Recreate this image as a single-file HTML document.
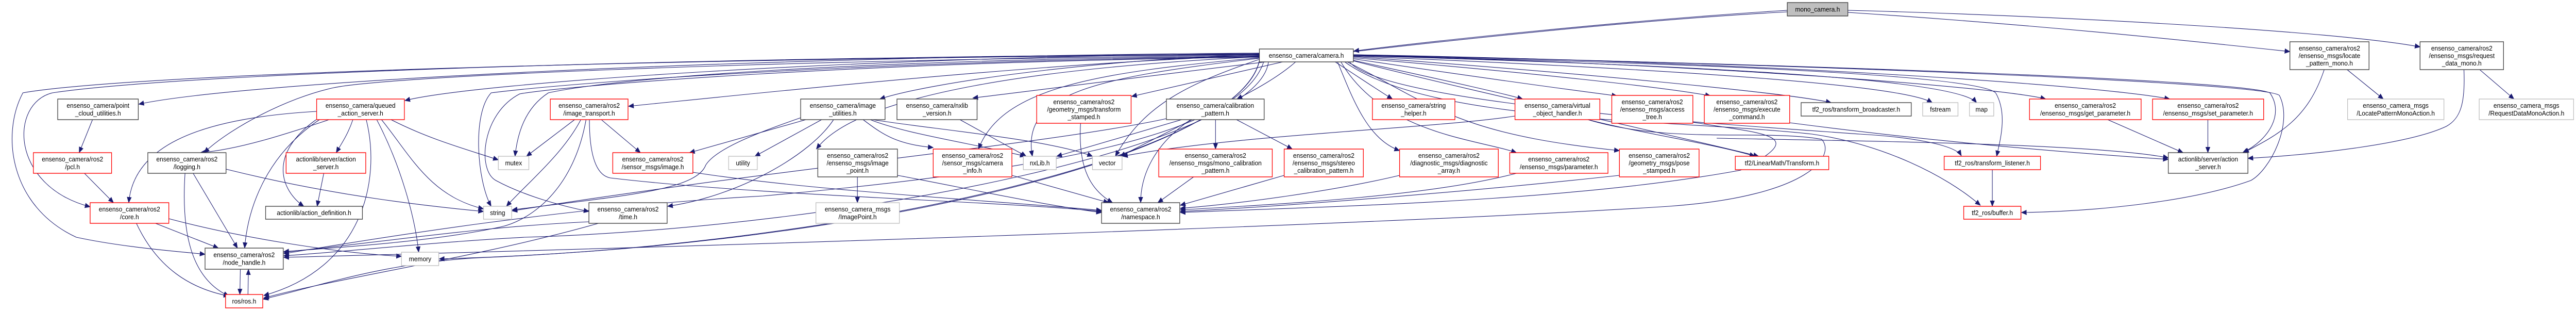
<!DOCTYPE html>
<html><head><meta charset="utf-8"><style>
html,body{margin:0;padding:0;background:#fff;width:100vw;height:100vh;overflow:hidden;}
svg{display:block;overflow:hidden;width:100vw;height:100vh;}
text{font-family:"Liberation Sans","DejaVu Sans",sans-serif;font-size:13px;fill:#000;text-anchor:middle;}
.d{fill:#fff;stroke:#404040;stroke-width:1.4;}
.r{fill:#fff;stroke:#ff0000;stroke-width:1.4;}
.g{fill:#fff;stroke:#bfbfbf;stroke-width:1.4;}
.e{fill:none;stroke:#191970;stroke-width:1.1;}
</style></head><body>
<svg viewBox="0 0 5402 603" preserveAspectRatio="none" xmlns="http://www.w3.org/2000/svg">
<defs><marker id="a" markerUnits="userSpaceOnUse" markerWidth="12" markerHeight="10" refX="11" refY="5" orient="auto"><path d="M0,0 L12,5 L0,10 z" fill="#191970"/></marker></defs>
<g class="e" marker-end="url(#a)">
<path d="M3748,20 C3400,40 3000,80 2839,99"/>
<path d="M3748,23 C3200,50 2400,150 2040,190"/>
<path d="M3875,20 C4300,30 4900,60 5075,91"/>
<path d="M3875,24 C4300,50 4600,80 4802,100"/>
<path d="M2641,103 C1500,110 500,160 291,202"/>
<path d="M2641,104 C1800,110 1000,160 849,195"/>
<path d="M2641,105 C1500,110 400,140 110,180 C20,200 20,360 189,401"/>
<path d="M2641,106 C1500,112 300,140 48,180 C2,260 20,400 160,460 C260,480 380,488 430,493"/>
<path d="M2641,107 C1500,118 800,150 700,170 C600,190 480,250 428,296"/>
<path d="M2641,108 C2200,120 1600,180 1318,206"/>
<path d="M2641,109 C1800,115 1300,150 1150,180 C1100,210 1085,260 1080,303"/>
<path d="M2641,110 C1800,118 1200,160 1030,180 C990,220 1000,350 1030,400"/>
<path d="M2641,111 C1800,120 1200,165 1090,182 C1010,220 1000,330 1040,350 C1100,380 1180,400 1235,410"/>
<path d="M2641,106 C2300,115 1950,160 1845,192"/>
<path d="M2641,112 C2300,140 2100,170 2052,289"/>
<path d="M2641,113 C2300,150 2140,180 2165,303"/>
<path d="M2641,115 C2500,160 2400,200 2339,303"/>
<path d="M2690,120 C2550,150 2450,170 2373,187"/>
<path d="M2717,120 C2680,150 2630,175 2594,192"/>
<path d="M2641,110 C2200,130 1800,180 1712,289"/>
<path d="M2641,118 C2600,300 1800,470 1000,500 C800,510 650,560 552,580"/>
<path d="M2641,117 C2600,300 1800,480 921,502"/>
<path d="M2660,120 C2640,280 1800,440 1100,460 C900,470 700,490 595,496"/>
<path d="M2650,120 C2600,260 2200,330 1600,380 C1200,400 800,460 595,492"/>
<path d="M2800,120 C2850,150 2890,175 2920,192"/>
<path d="M2838,117 C3000,150 3150,180 3193,192"/>
<path d="M2838,114 C3100,150 3300,175 3391,186"/>
<path d="M2838,112 C3200,140 3500,170 3587,186"/>
<path d="M2805,120 C2840,200 2870,270 2935,292"/>
<path d="M2812,120 C2900,260 3100,270 3180,296"/>
<path d="M2825,120 C3000,200 3050,260 3396,292"/>
<path d="M2838,118 C3100,180 3500,260 3688,303"/>
<path d="M2838,110 C3300,140 3750,180 3840,199"/>
<path d="M2838,109 C3400,130 3980,160 4052,199"/>
<path d="M2838,108 C3500,125 4100,150 4145,199"/>
<path d="M2838,107 C3600,125 4200,170 4290,192"/>
<path d="M2838,106 C3700,120 4400,165 4550,192"/>
<path d="M2838,108 C3700,125 4150,150 4185,180 C4210,220 4195,270 4187,303"/>
<path d="M2838,107 C3800,125 4700,155 4760,180 C4790,220 4760,270 4703,296"/>
<path d="M2838,106 C3800,125 4750,160 4780,185 C4810,240 4760,330 4720,350 C4600,390 4400,410 4239,412"/>
<path d="M2830,120 C2900,200 3600,240 3900,260 C4000,265 4100,280 4113,302"/>
<path d="M2820,120 C3000,240 3500,230 3800,260 C3950,280 4080,340 4153,398"/>
<path d="M664,216 C400,230 280,290 270,393"/>
<path d="M690,232 C600,260 500,290 420,296"/>
<path d="M670,232 C560,300 520,400 513,481"/>
<path d="M740,232 C730,260 715,280 705,296"/>
<path d="M663,232 C560,300 590,370 637,400"/>
<path d="M768,232 C800,350 760,520 553,573"/>
<path d="M790,232 C840,320 870,420 878,489"/>
<path d="M800,232 C860,300 900,380 1014,405"/>
<path d="M820,232 C900,270 980,290 1045,310"/>
<path d="M194,232 L166,296"/>
<path d="M177,336 L238,393"/>
<path d="M405,336 L498,481"/>
<path d="M388,336 C380,450 400,540 480,574"/>
<path d="M474,328 C700,380 900,400 1014,410"/>
<path d="M679,336 L665,400"/>
<path d="M326,433 L458,481"/>
<path d="M286,433 C330,520 400,560 480,574"/>
<path d="M354,424 C500,460 700,490 842,497"/>
<path d="M504,522 L503,571"/>
<path d="M520,571 L521,522"/>
<path d="M1205,232 L1104,303"/>
<path d="M1218,232 C1180,300 1100,360 1062,400"/>
<path d="M1261,232 L1343,296"/>
<path d="M1229,232 C1200,380 1100,430 1050,440 C900,470 700,480 595,488"/>
<path d="M1236,232 C1236,300 1250,340 1280,345 C1600,380 2100,390 2310,410"/>
<path d="M1453,334 C1700,370 2100,390 2310,408"/>
<path d="M1690,232 L1446,296"/>
<path d="M1723,232 L1583,303"/>
<path d="M1748,232 C1700,300 1550,380 1400,400"/>
<path d="M1680,228 C1580,260 1500,290 1480,320 C1460,370 1300,380 1074,407"/>
<path d="M1810,232 C1850,260 1880,280 1957,286"/>
<path d="M1825,232 C1900,260 2050,280 2150,303"/>
<path d="M1830,232 C1950,250 2200,270 2291,303"/>
<path d="M1798,343 L1798,393"/>
<path d="M1882,340 C2000,360 2200,400 2310,412"/>
<path d="M1255,433 C1000,500 700,540 553,578"/>
<path d="M1235,430 C1000,440 800,470 595,489"/>
<path d="M2013,232 L2152,303"/>
<path d="M2266,239 C2260,330 2290,370 2333,393"/>
<path d="M2549,232 L2549,289"/>
<path d="M2593,232 L2710,289"/>
<path d="M2500,232 L2349,303"/>
<path d="M2478,232 L2216,303"/>
<path d="M2497,232 C2420,280 2392,340 2392,393"/>
<path d="M2446,230 C2200,280 1600,330 1074,409"/>
<path d="M2122,340 L2325,393"/>
<path d="M2503,343 L2428,393"/>
<path d="M2693,340 L2475,398"/>
<path d="M2935,340 C2800,370 2600,395 2475,404"/>
<path d="M3180,336 C3000,380 2700,395 2475,407"/>
<path d="M3396,340 C3100,370 2700,400 2475,410"/>
<path d="M3550,237 C3700,260 3800,260 3650,330 C3300,390 2800,400 2475,412"/>
<path d="M3330,232 C3450,260 3600,280 3680,303"/>
<path d="M3177,225 C3000,250 2600,260 2354,303"/>
<path d="M3330,232 C3500,280 3700,250 3820,270 C3850,300 3800,380 3500,400 C3000,430 1800,470 595,499"/>
<path d="M3753,238 C4100,280 4400,300 4547,309"/>
<path d="M3600,268 C4000,275 4400,280 4547,306"/>
<path d="M4420,232 L4578,296"/>
<path d="M4630,232 L4630,296"/>
<path d="M4178,329 L4178,400"/>
<path d="M4922,135 L4998,192"/>
<path d="M4874,135 C4840,230 4780,260 4705,296"/>
<path d="M5200,135 L5272,192"/>
<path d="M5167,135 C5170,200 5160,230 5130,245 C5050,280 4850,300 4714,307"/>
</g>
<g>
<rect class="d" x="121" y="192" width="169" height="40"/><text x="205.5" y="209.2">ensenso_camera/point</text><text x="205.5" y="223.8">_cloud_utilities.h</text>
<rect class="r" x="664" y="192" width="184" height="40"/><text x="756" y="209.2">ensenso_camera/queued</text><text x="756" y="223.8">_action_server.h</text>
<rect class="r" x="70" y="296" width="164" height="40"/><text x="152" y="313.2">ensenso_camera/ros2</text><text x="152" y="327.8">/pcl.h</text>
<rect class="d" x="310" y="296" width="164" height="40"/><text x="392" y="313.2">ensenso_camera/ros2</text><text x="392" y="327.8">/logging.h</text>
<rect class="r" x="600" y="296" width="167" height="40"/><text x="683.5" y="313.2">actionlib/server/action</text><text x="683.5" y="327.8">_server.h</text>
<rect class="r" x="189" y="393" width="165" height="40"/><text x="271.5" y="410.2">ensenso_camera/ros2</text><text x="271.5" y="424.8">/core.h</text>
<rect class="d" x="557" y="400" width="203" height="25"/><text x="658.5" y="417">actionlib/action_definition.h</text>
<rect class="d" x="430" y="481" width="164" height="41"/><text x="512" y="498.7">ensenso_camera/ros2</text><text x="512" y="513.3">/node_handle.h</text>
<rect class="g" x="842" y="489" width="78" height="26"/><text x="881" y="506.5">memory</text>
<rect class="r" x="473" y="571" width="78" height="26"/><text x="512" y="588.5">ros/ros.h</text>
<rect class="r" x="1154" y="192" width="163" height="40"/><text x="1235.5" y="209.2">ensenso_camera/ros2</text><text x="1235.5" y="223.8">/image_transport.h</text>
<rect class="d" x="1679" y="192" width="177" height="40"/><text x="1767.5" y="209.2">ensenso_camera/image</text><text x="1767.5" y="223.8">_utilities.h</text>
<rect class="g" x="1045" y="303" width="64" height="26"/><text x="1077" y="320.5">mutex</text>
<rect class="r" x="1285" y="296" width="168" height="40"/><text x="1369" y="313.2">ensenso_camera/ros2</text><text x="1369" y="327.8">/sensor_msgs/image.h</text>
<rect class="g" x="1528" y="303" width="60" height="26"/><text x="1558" y="320.5">utility</text>
<rect class="d" x="1715" y="289" width="167" height="54"/><text x="1798.5" y="305.9">ensenso_camera/ros2</text><text x="1798.5" y="320.5">/ensenso_msgs/image</text><text x="1798.5" y="335.1">_point.h</text>
<rect class="g" x="1014" y="400" width="59" height="25"/><text x="1043.5" y="417">string</text>
<rect class="d" x="1235" y="393" width="164" height="40"/><text x="1317" y="410.2">ensenso_camera/ros2</text><text x="1317" y="424.8">/time.h</text>
<rect class="g" x="1711" y="393" width="175" height="40"/><text x="1798.5" y="410.2">ensenso_camera_msgs</text><text x="1798.5" y="424.8">/ImagePoint.h</text>
<rect class="d" x="1881" y="192" width="168" height="40"/><text x="1965" y="209.2">ensenso_camera/nxlib</text><text x="1965" y="223.8">_version.h</text>
<rect class="r" x="2174" y="185" width="198" height="54"/><text x="2273" y="201.9">ensenso_camera/ros2</text><text x="2273" y="216.5">/geometry_msgs/transform</text><text x="2273" y="231.1">_stamped.h</text>
<rect class="d" x="2446" y="192" width="205" height="40"/><text x="2548.5" y="209.2">ensenso_camera/calibration</text><text x="2548.5" y="223.8">_pattern.h</text>
<rect class="d" x="2641" y="95" width="197" height="25"/><text x="2739.5" y="112">ensenso_camera/camera.h</text>
<rect class="r" x="1957" y="289" width="165" height="54"/><text x="2039.5" y="305.9">ensenso_camera/ros2</text><text x="2039.5" y="320.5">/sensor_msgs/camera</text><text x="2039.5" y="335.1">_info.h</text>
<rect class="g" x="2146" y="303" width="69" height="26"/><text x="2180.5" y="320.5">nxLib.h</text>
<rect class="g" x="2291" y="303" width="62" height="26"/><text x="2322" y="320.5">vector</text>
<rect class="r" x="2430" y="289" width="238" height="54"/><text x="2549" y="305.9">ensenso_camera/ros2</text><text x="2549" y="320.5">/ensenso_msgs/mono_calibration</text><text x="2549" y="335.1">_pattern.h</text>
<rect class="r" x="2693" y="289" width="166" height="54"/><text x="2776" y="305.9">ensenso_camera/ros2</text><text x="2776" y="320.5">/ensenso_msgs/stereo</text><text x="2776" y="335.1">_calibration_pattern.h</text>
<rect class="d" x="2310" y="393" width="164" height="40"/><text x="2392" y="410.2">ensenso_camera/ros2</text><text x="2392" y="424.8">/namespace.h</text>
<rect class="r" x="2878" y="192" width="173" height="40"/><text x="2964.5" y="209.2">ensenso_camera/string</text><text x="2964.5" y="223.8">_helper.h</text>
<rect class="r" x="3177" y="192" width="178" height="40"/><text x="3266" y="209.2">ensenso_camera/virtual</text><text x="3266" y="223.8">_object_handler.h</text>
<rect class="r" x="3380" y="185" width="170" height="54"/><text x="3465" y="201.9">ensenso_camera/ros2</text><text x="3465" y="216.5">/ensenso_msgs/access</text><text x="3465" y="231.1">_tree.h</text>
<rect class="r" x="3574" y="185" width="179" height="54"/><text x="3663.5" y="201.9">ensenso_camera/ros2</text><text x="3663.5" y="216.5">/ensenso_msgs/execute</text><text x="3663.5" y="231.1">_command.h</text>
<rect class="r" x="2935" y="289" width="207" height="54"/><text x="3038.5" y="305.9">ensenso_camera/ros2</text><text x="3038.5" y="320.5">/diagnostic_msgs/diagnostic</text><text x="3038.5" y="335.1">_array.h</text>
<rect class="r" x="3166" y="296" width="206" height="40"/><text x="3269" y="313.2">ensenso_camera/ros2</text><text x="3269" y="327.8">/ensenso_msgs/parameter.h</text>
<rect class="r" x="3396" y="289" width="167" height="54"/><text x="3479.5" y="305.9">ensenso_camera/ros2</text><text x="3479.5" y="320.5">/geometry_msgs/pose</text><text x="3479.5" y="335.1">_stamped.h</text>
<rect class="r" x="3639" y="303" width="196" height="26"/><text x="3737" y="320.5">tf2/LinearMath/Transform.h</text>
<rect x="3748" y="5" width="127" height="26" fill="#bfbfbf" stroke="#404040" stroke-width="1.4"/><text x="3811.5" y="22.5">mono_camera.h</text>
<rect class="d" x="3777" y="199" width="231" height="26"/><text x="3892.5" y="216.5">tf2_ros/transform_broadcaster.h</text>
<rect class="g" x="4032" y="199" width="74" height="26"/><text x="4069" y="216.5">fstream</text>
<rect class="g" x="4130" y="199" width="51" height="26"/><text x="4155.5" y="216.5">map</text>
<rect class="r" x="4256" y="192" width="234" height="40"/><text x="4373" y="209.2">ensenso_camera/ros2</text><text x="4373" y="223.8">/ensenso_msgs/get_parameter.h</text>
<rect class="r" x="4514" y="192" width="233" height="40"/><text x="4630.5" y="209.2">ensenso_camera/ros2</text><text x="4630.5" y="223.8">/ensenso_msgs/set_parameter.h</text>
<rect class="r" x="4077" y="303" width="202" height="26"/><text x="4178" y="320.5">tf2_ros/transform_listener.h</text>
<rect class="d" x="4547" y="296" width="167" height="40"/><text x="4630.5" y="313.2">actionlib/server/action</text><text x="4630.5" y="327.8">_server.h</text>
<rect class="r" x="4118" y="400" width="120" height="25"/><text x="4178" y="417">tf2_ros/buffer.h</text>
<rect class="d" x="4802" y="81" width="166" height="54"/><text x="4885" y="97.9">ensenso_camera/ros2</text><text x="4885" y="112.5">/ensenso_msgs/locate</text><text x="4885" y="127.1">_pattern_mono.h</text>
<rect class="d" x="5075" y="81" width="175" height="54"/><text x="5162.5" y="97.9">ensenso_camera/ros2</text><text x="5162.5" y="112.5">/ensenso_msgs/request</text><text x="5162.5" y="127.1">_data_mono.h</text>
<rect class="g" x="4923" y="192" width="202" height="40"/><text x="5024" y="209.2">ensenso_camera_msgs</text><text x="5024" y="223.8">/LocatePatternMonoAction.h</text>
<rect class="g" x="5199" y="192" width="198" height="40"/><text x="5298" y="209.2">ensenso_camera_msgs</text><text x="5298" y="223.8">/RequestDataMonoAction.h</text>
</g>
</svg>
</body></html>
